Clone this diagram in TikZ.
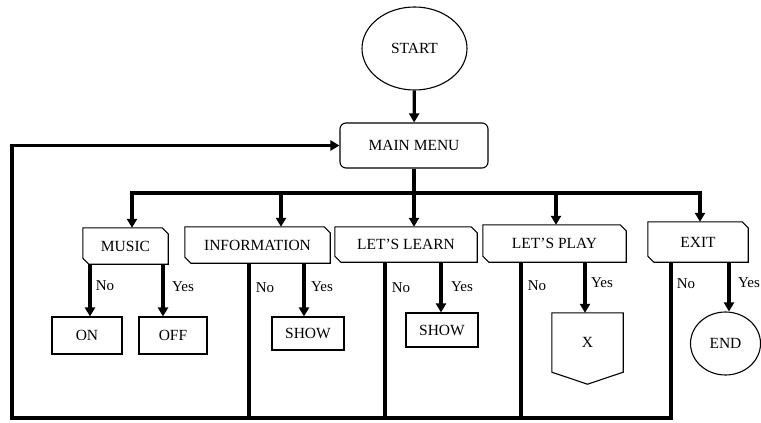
\documentclass[tikz,border=0pt]{standalone}
\usepackage{fontspec}
\setmainfont{Liberation Serif}
\usetikzlibrary{arrows.meta,shapes.geometric}
\begin{document}
\begin{tikzpicture}[x=1pt,y=-1pt,
  every node/.style={font=\fontsize{15.5}{17}\selectfont},
  box/.style={draw, line width=1.1pt, inner sep=0pt},
  hidden/.style={inner sep=0pt},
  oval/.style={draw, line width=1.1pt, ellipse, inner sep=0pt},
  flow/.style={line width=3.2pt},
  arr/.style={line width=3.2pt, -{Triangle[length=9pt,width=10pt]}},
  lab/.style={inner sep=0pt, font=\fontsize{15}{16}\selectfont}]
\useasboundingbox (0,0) rectangle (761,423);
% nodes
\node[oval, minimum width=105pt, minimum height=83pt] (start) at (414.5,48.5) {START};
\node[box, rounded corners=6pt, minimum width=148pt, minimum height=45pt] (menu) at (414,145.5) {MAIN MENU};
\node[hidden, minimum width=85pt, minimum height=36pt] (music) at (125.5,246) {MUSIC};
\node[hidden, minimum width=145pt, minimum height=36pt] (info) at (257.5,245) {INFORMATION};
\node[hidden, minimum width=142pt, minimum height=35pt] (learn) at (406,244.5) {LET'S LEARN};
\node[hidden, minimum width=143pt, minimum height=37pt] (play) at (554.5,243.5) {LET'S PLAY};
\node[hidden, minimum width=100pt, minimum height=40pt] (exit) at (698,242) {EXIT};
\foreach \n in {music,info,learn,play,exit}{
  \draw[line width=1.1pt, line join=miter] (\n.north west) -- ([xshift=-6pt]\n.north east) -- ([yshift=-6pt]\n.north east)
    -- (\n.south east) -- ([xshift=6pt]\n.south west) -- ([yshift=6pt]\n.south west) -- cycle;
}
\node[box, minimum width=70pt, minimum height=37pt] (on) at (87,335.5) {ON};
\node[box, minimum width=68pt, minimum height=37pt] (off) at (173,335.5) {OFF};
\node[box, minimum width=72pt, minimum height=33pt] (show1) at (308,333.5) {SHOW};
\node[box, minimum width=72pt, minimum height=34pt] (show2) at (442,330) {SHOW};
\node[hidden, minimum width=71pt, minimum height=59pt] (xbox) at (587.5,342.5) {X};
\draw[line width=1.1pt] (xbox.north west) -- (xbox.north east) -- (xbox.south east)
  -- ([yshift=-12pt]xbox.south) -- (xbox.south west) -- cycle;
\node[oval, minimum width=70pt, minimum height=63pt] (end) at (725.5,343.5) {END};
% start to menu
\draw[arr] (start) -- (menu);
% branch
\coordinate (bj) at (414,193);
\coordinate (b1) at (132,193);
\coordinate (b2) at (281,193);
\coordinate (b3) at (414,193);
\coordinate (b4) at (556,193);
\coordinate (b5) at (700,193);
\draw[flow] (menu.south) -- (bj);
\draw[flow, line cap=rect] (b1) -- (b5);
\draw[arr] (b1) -- (b1 |- music.north);
\draw[arr] (b2) -- (b2 |- info.north);
\draw[arr] (b3) -- (b3 |- learn.north);
\draw[arr] (b4) -- (b4 |- play.north);
\draw[arr] (b5) -- (b5 |- exit.north);
% music
\coordinate (m1) at (90,0);
\coordinate (m2) at (163,0);
\draw[arr] (m1 |- music.south) -- (m1 |- on.north);
\draw[arr] (m2 |- music.south) -- (m2 |- off.north);
% yes arrows
\coordinate (y2) at (304,0);
\coordinate (y3) at (441,0);
\coordinate (y4) at (585,0);
\coordinate (y5) at (729,0);
\draw[arr] (y2 |- info.south) -- (y2 |- show1.north);
\draw[arr] (y3 |- learn.south) -- (y3 |- show2.north);
\draw[arr] (y4 |- play.south) -- (y4 |- xbox.north);
\draw[arr] (y5 |- exit.south) -- (y5 |- end.north);
% no lines and loop back
\coordinate (bl) at (12,418);
\coordinate (tl) at (12,145.5);
\coordinate (n2) at (249,418);
\coordinate (n3) at (385,418);
\coordinate (n4) at (521,418);
\coordinate (n5) at (671,418);
\draw[flow] (n2 |- info.south) -- (n2);
\draw[flow] (n3 |- learn.south) -- (n3);
\draw[flow] (n4 |- play.south) -- (n4);
\draw[arr, line join=miter] (n5 |- exit.south) -- (n5) -- (bl) -- (tl) -- (menu.west);
% labels
\node[lab] at (105,286) {No};
\node[lab] at (183,287) {Yes};
\node[lab] at (265,288) {No};
\node[lab] at (322,287) {Yes};
\node[lab] at (401,288) {No};
\node[lab] at (462,287) {Yes};
\node[lab] at (537,286) {No};
\node[lab] at (602,283) {Yes};
\node[lab] at (686,284) {No};
\node[lab] at (749,283) {Yes};
\end{tikzpicture}
\end{document}
